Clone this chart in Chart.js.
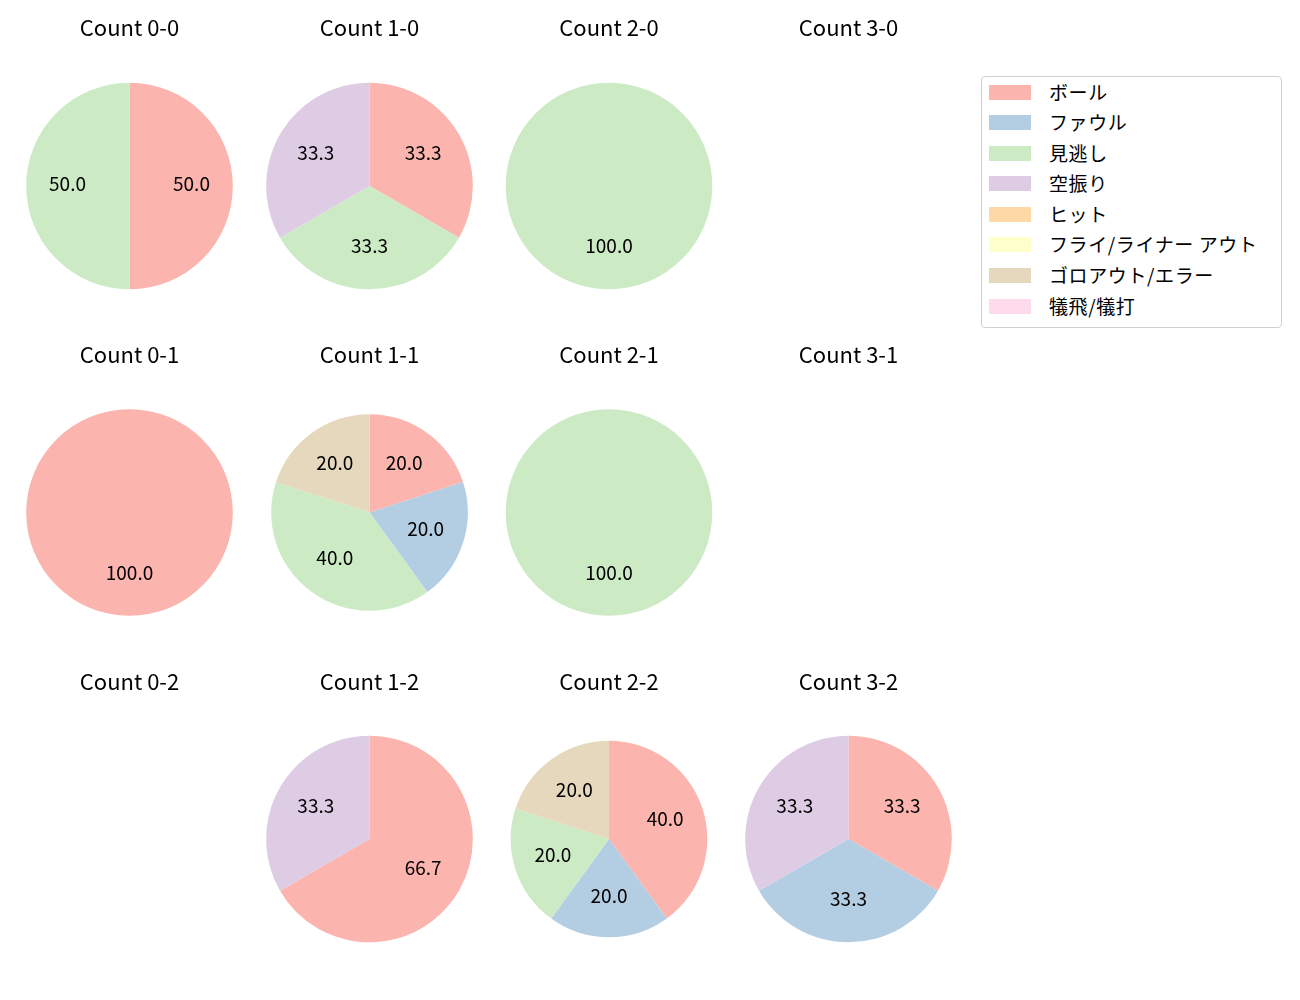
<!DOCTYPE html>
<html>
<head>
<meta charset="utf-8">
<script src="https://cdn.jsdelivr.net/npm/chart.js@4/dist/chart.umd.min.js"></script>
<style>
  html, body { margin: 0; padding: 0; background: #ffffff; }
  body { width: 1300px; height: 1000px; position: relative; overflow: hidden;
         font-family: "Noto Sans CJK JP", "Noto Sans", sans-serif; }
  canvas.pie { position: absolute; }
  #legend { position: absolute; left: 981px; top: 76px; width: 301px; height: 252px;
            border: 1px solid #d0d0d0; border-radius: 4px; box-sizing: border-box; background: #fff; }
  .lg-box { position: absolute; left: 7px; width: 42px; height: 15px; }
  .lg-text { position: absolute; left: 67px; font-size: 19px; color: #000; white-space: nowrap; line-height: 20px; letter-spacing: 0.6px; }
</style>
</head>
<body>
<div id="legend"></div>
<script>
// ---- data ----
const categories = ['ボール', 'ファウル', '見逃し', '空振り', 'ヒット', 'フライ/ライナー アウト', 'ゴロアウト/エラー', '犠飛/犠打'];
const colors = ['#fbb4ae', '#b3cde3', '#ccebc5', '#decbe4', '#fed9a6', '#ffffcc', '#e5d8bd', '#fddaec'];
const countLabels = ['0-0', '1-0', '2-0', '3-0', '0-1', '1-1', '2-1', '3-1', '0-2', '1-2', '2-2', '3-2'];
// pitch counts per category (order matches categories)
const count00 = [1, 0, 1, 0, 0, 0, 0, 0];
const count10 = [1, 0, 1, 1, 0, 0, 0, 0];
const count20 = [0, 0, 1, 0, 0, 0, 0, 0];
const count30 = [0, 0, 0, 0, 0, 0, 0, 0];
const count01 = [1, 0, 0, 0, 0, 0, 0, 0];
const count11 = [1, 1, 2, 0, 0, 0, 1, 0];
const count21 = [0, 0, 1, 0, 0, 0, 0, 0];
const count31 = [0, 0, 0, 0, 0, 0, 0, 0];
const count02 = [0, 0, 0, 0, 0, 0, 0, 0];
const count12 = [2, 0, 0, 1, 0, 0, 0, 0];
const count22 = [2, 1, 1, 0, 0, 0, 1, 0];
const count32 = [1, 1, 0, 1, 0, 0, 0, 0];
const countData = [count00, count10, count20, count30, count01, count11, count21, count31, count02, count12, count22, count32];

// ---- layout ----
const colCx = [129.5, 369.5, 609, 848.5];
const rowCy = [186, 512.5, 839];
const rowTitleY = [28, 355, 682];
const W = 260, H = 330;
const radiusFor = (i) => (i === 5 || i === 10) ? 98.3 : 103.3;

const labelPlugin = {
  id: 'pctLabels',
  afterDatasetsDraw(chart) {
    const ctx = chart.ctx;
    const ds = chart.data.datasets[0];
    const total = ds.data.reduce((a, b) => a + b, 0);
    const meta = chart.getDatasetMeta(0);
    ctx.save();
    ctx.font = '19px "Noto Sans CJK JP", "Noto Sans", sans-serif';
    ctx.fillStyle = '#000';
    ctx.textAlign = 'center';
    ctx.textBaseline = 'middle';
    meta.data.forEach((arc, i) => {
      const v = ds.data[i];
      if (!v || total <= 0) return;
      const p = arc.getProps(['x', 'y', 'startAngle', 'endAngle', 'outerRadius'], true);
      const mid = (p.startAngle + p.endAngle) / 2;
      const r = p.outerRadius * 0.6;
      ctx.fillText((v / total * 100).toFixed(1), p.x + Math.cos(mid) * r, p.y + Math.sin(mid) * r - 2);
    });
    ctx.restore();
  }
};

const titlePlugin = {
  id: 'cellTitle',
  afterDraw(chart, args, opts) {
    const ctx = chart.ctx;
    ctx.save();
    ctx.font = '22px "Noto Sans CJK JP", "Noto Sans", sans-serif';
    ctx.fillStyle = '#000';
    ctx.textAlign = 'center';
    ctx.textBaseline = 'middle';
    ctx.fillText(opts.text, opts.x, opts.y);
    ctx.restore();
  }
};

countLabels.forEach((lab, i) => {
  const col = i % 4, row = Math.floor(i / 4);
  const cx = colCx[col], cy = rowCy[row];
  const left = Math.floor(cx - W / 2), top = Math.floor(cy - 200);
  const lcx = cx - left, lcy = cy - top;
  const cv = document.createElement('canvas');
  cv.className = 'pie';
  cv.width = W; cv.height = H;
  cv.style.left = left + 'px';
  cv.style.top = top + 'px';
  cv.style.width = W + 'px';
  cv.style.height = H + 'px';
  document.body.appendChild(cv);
  const padLeft = 2 * lcx - W;
  const padTop = 2 * lcy - H;
  new Chart(cv, {
    type: 'pie',
    data: {
      labels: categories,
      datasets: [{ data: countData[i], backgroundColor: colors, borderWidth: 0, hoverOffset: 0 }]
    },
    options: {
      responsive: false,
      animation: false,
      devicePixelRatio: 1,
      radius: radiusFor(i),
      layout: { padding: { left: Math.max(padLeft, 0), right: Math.max(-padLeft, 0), top: Math.max(padTop, 0), bottom: Math.max(-padTop, 0) } },
      plugins: {
        legend: { display: false },
        tooltip: { enabled: false },
        title: { display: false },
        cellTitle: { text: 'Count ' + lab, x: lcx, y: rowTitleY[row] - top }
      }
    },
    plugins: [labelPlugin, titlePlugin]
  });
});

// ---- legend ----
const legend = document.getElementById('legend');
const rowYs = [92, 122, 153, 183, 214, 244, 275, 306];
categories.forEach((c, i) => {
  const cyL = rowYs[i] - 77; // relative to inner box
  const box = document.createElement('div');
  box.className = 'lg-box';
  box.style.top = (cyL - 7.5) + 'px';
  box.style.background = colors[i];
  legend.appendChild(box);
  const t = document.createElement('div');
  t.className = 'lg-text';
  t.style.top = (cyL - 10) + 'px';
  t.textContent = c;
  legend.appendChild(t);
});
</script>
</body>
</html>
